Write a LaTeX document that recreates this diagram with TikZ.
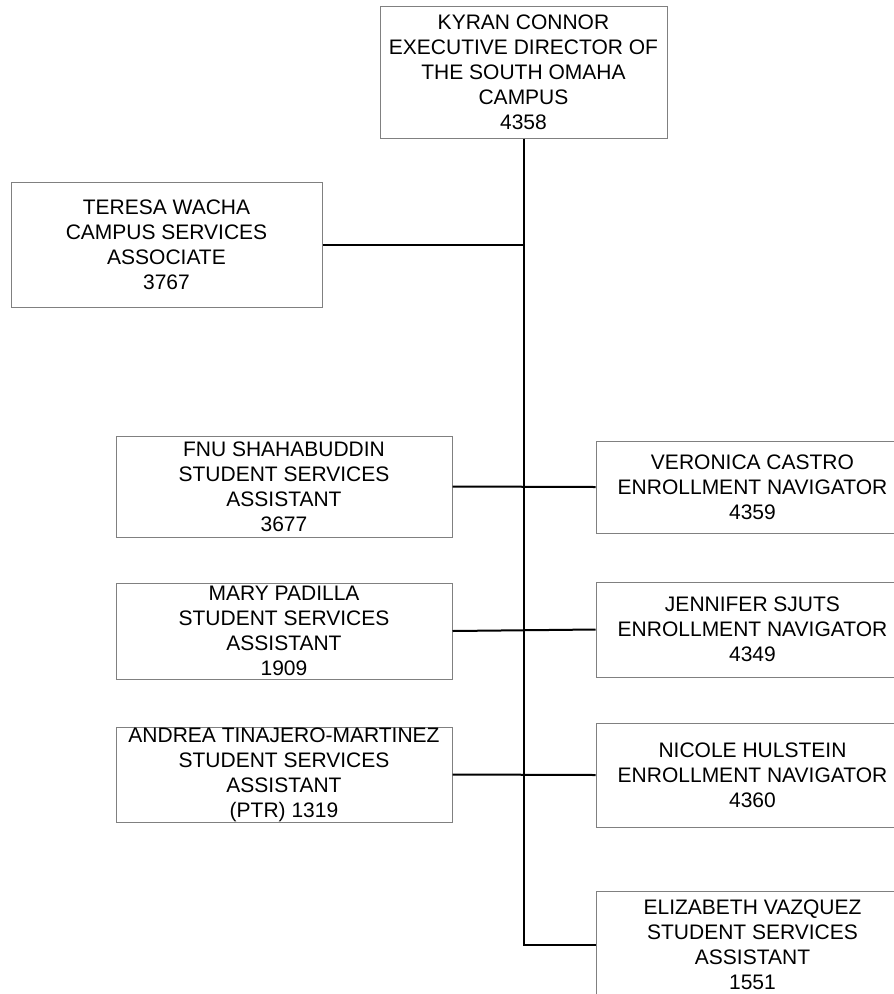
\documentclass[tikz,border=0pt]{standalone}
\usepackage{fontspec}
\setmainfont{Liberation Sans}

\tikzset{
	staff/.style={rectangle, draw=black!50, line width=1pt, align=center, inner sep=0pt,
		font=\fontsize{21}{25}\selectfont},
	link/.style={line width=2pt, black}
}

\begin{document}
\begin{tikzpicture}[x=1pt, y=-1pt]
		\useasboundingbox (0,0) rectangle (894,994);
		\clip (0,0) rectangle (894,994);

		\draw 
		(523.5, 72) node [staff, minimum width=287, minimum height=132] (kyran) {KYRAN CONNOR\\EXECUTIVE DIRECTOR OF\\THE SOUTH OMAHA\\CAMPUS\\4358}
		(166.5, 244.5) node [staff, minimum width=311, minimum height=125] (teresa) {TERESA WACHA\\CAMPUS SERVICES\\ASSOCIATE\\3767};

		\draw 
		(284, 486.5) node [staff, minimum width=336, minimum height=101] (fnu) {FNU SHAHABUDDIN\\STUDENT SERVICES\\ASSISTANT\\3677}
		(284, 631) node [staff, minimum width=336, minimum height=96] (mary) {MARY PADILLA\\STUDENT SERVICES\\ASSISTANT\\1909}
		(284, 774.5) node [staff, minimum width=336, minimum height=95] (andrea) {ANDREA TINAJERO-MARTINEZ\\STUDENT SERVICES\\ASSISTANT\\(PTR) 1319};

		\draw 
		(752.5, 487) node [staff, minimum width=313, minimum height=92] (veronica) {VERONICA CASTRO\\ENROLLMENT NAVIGATOR\\4359}
		(752.5, 629.5) node [staff, minimum width=313, minimum height=95] (jennifer) {JENNIFER SJUTS\\ENROLLMENT NAVIGATOR\\4349}
		(752.5, 775) node [staff, minimum width=313, minimum height=104] (nicole) {NICOLE HULSTEIN\\ENROLLMENT NAVIGATOR\\4360}
		(752.5, 944.5) node [staff, minimum width=313, minimum height=107] (elizabeth) {ELIZABETH VAZQUEZ\\STUDENT SERVICES\\ASSISTANT\\1551};

		\coordinate (trunkend) at (kyran.south |- elizabeth.west);
		\draw[link] (kyran.south) -- (trunkend) -- (elizabeth.west);
		\draw[link] (teresa.east) -- (teresa.east -| kyran.south);
		\draw[link] (fnu.east) -- (veronica.west);
		\draw[link] (mary.east) -- (jennifer.west);
		\draw[link] (andrea.east) -- (nicole.west);
	\end{tikzpicture}
\end{document}
